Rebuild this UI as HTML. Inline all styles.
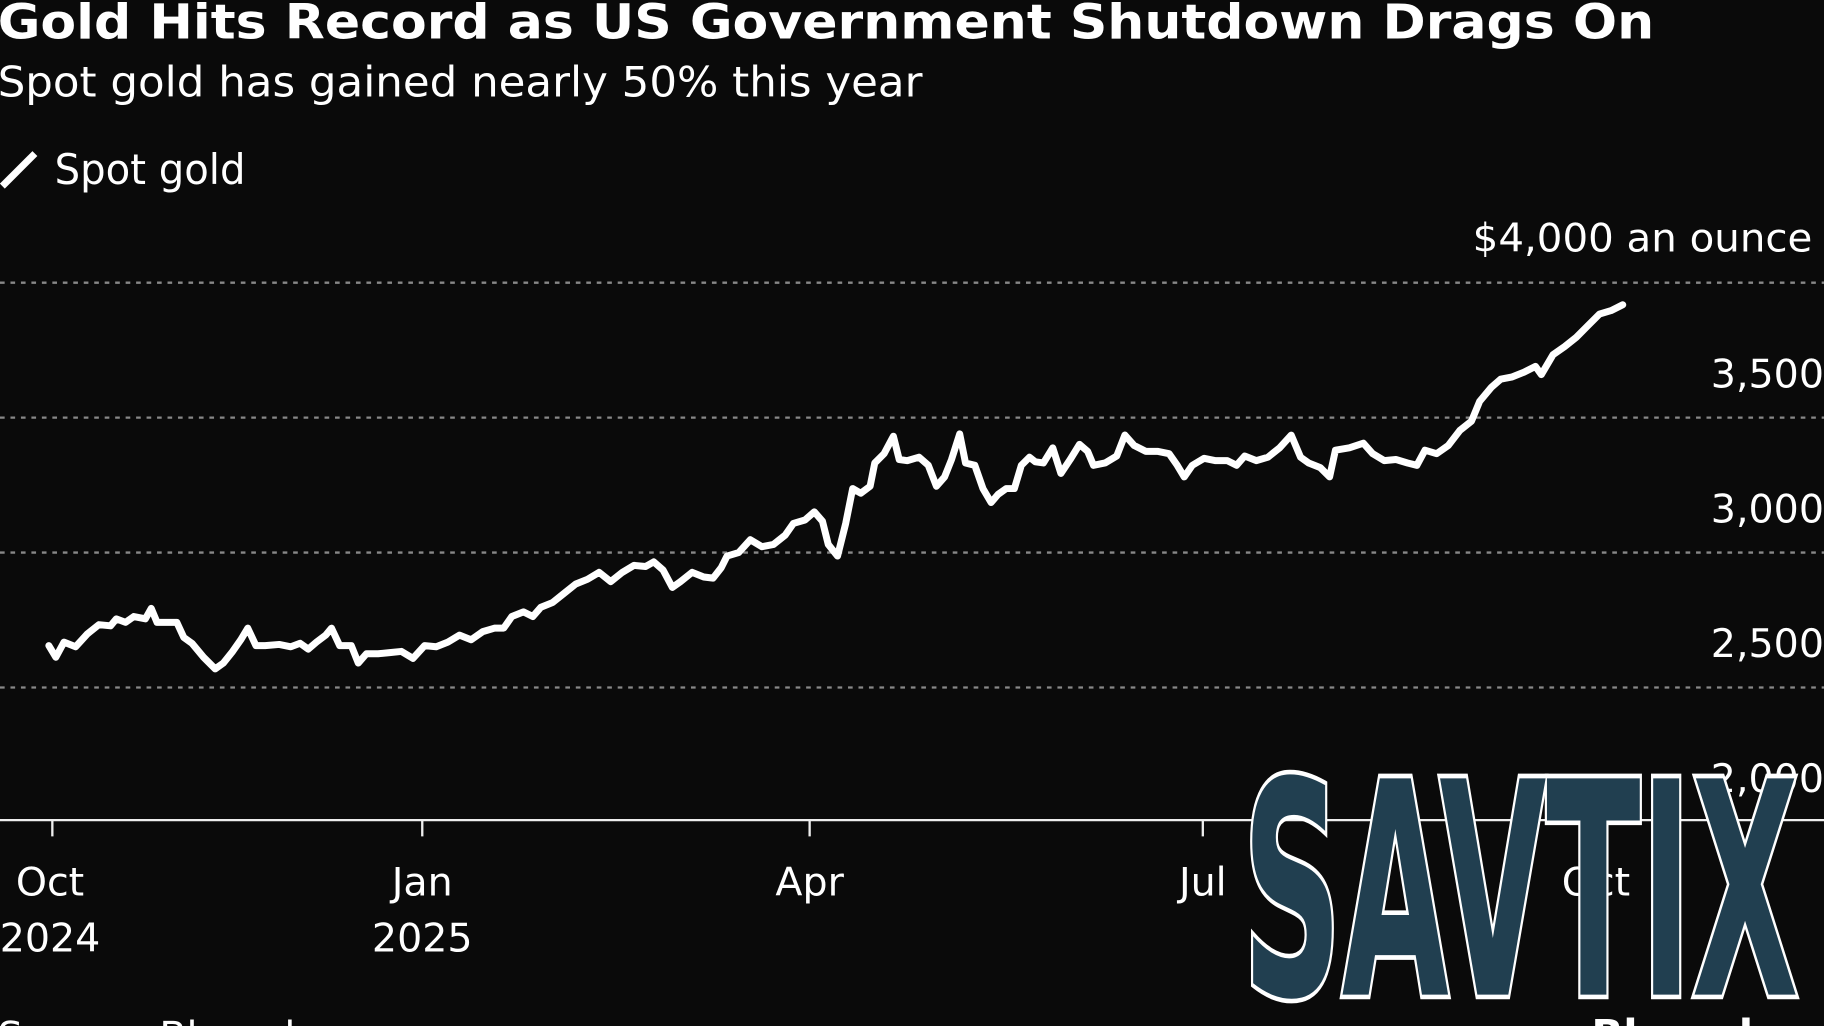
<!DOCTYPE html>
<html><head><meta charset="utf-8"><style>
html,body{margin:0;padding:0;background:#0a0a0a;overflow:hidden}
svg{display:block}
text{font-family:"DejaVu Sans","Liberation Sans",sans-serif;fill:#fff}
</style></head><body>
<svg width="1824" height="1026" viewBox="0 0 1568 882" preserveAspectRatio="none">
<rect width="1568" height="882" fill="#0a0a0a"/>
<text x="-2" y="33" font-size="41" font-weight="bold" textLength="1424" lengthAdjust="spacingAndGlyphs">Gold Hits Record as US Government Shutdown Drags On</text>
<text x="-2" y="83" font-size="36" textLength="795" lengthAdjust="spacingAndGlyphs">Spot gold has gained nearly 50% this year</text>
<line x1="2" y1="160" x2="30" y2="132" stroke="#fff" stroke-width="6"/>
<text x="47" y="158" font-size="36" textLength="164" lengthAdjust="spacingAndGlyphs">Spot gold</text>
<g stroke="#888" stroke-width="2" stroke-dasharray="4,5">
<line x1="0" y1="243" x2="1568" y2="243"/><line x1="0" y1="359" x2="1568" y2="359"/>
<line x1="0" y1="475" x2="1568" y2="475"/><line x1="0" y1="591" x2="1568" y2="591"/>
</g>
<g font-size="34" text-anchor="end">
<text x="1558" y="216" textLength="292" lengthAdjust="spacingAndGlyphs">$4,000 an ounce</text>
<text x="1568" y="333">3,500</text><text x="1568" y="449">3,000</text>
<text x="1568" y="565">2,500</text><text x="1568" y="681">2,000</text>
</g>
<line x1="0" y1="705" x2="1568" y2="705" stroke="#eee" stroke-width="2"/>
<g stroke="#eee" stroke-width="2">
<line x1="45" y1="705" x2="45" y2="719"/><line x1="363" y1="705" x2="363" y2="719"/>
<line x1="696" y1="705" x2="696" y2="719"/><line x1="1034" y1="705" x2="1034" y2="719"/>
<line x1="1370" y1="705" x2="1370" y2="719"/>
</g>
<g font-size="34" text-anchor="middle">
<text x="43" y="770">Oct</text><text x="43" y="818">2024</text>
<text x="363" y="770">Jan</text><text x="363" y="818">2025</text>
<text x="696" y="770">Apr</text><text x="1034" y="770">Jul</text><text x="1372" y="770">Oct</text>
</g>
<text x="-2" y="902" font-size="34">Source: Bloomberg</text>
<text x="1368" y="902" font-size="36" font-weight="bold">Bloomberg</text>
<polyline fill="none" stroke="#fff" stroke-width="6" stroke-linejoin="round" stroke-linecap="round" points="42,555 48,565 55,552 65,556 75,545 85,537 95,538 100,532 108,535 115,530 125,532 130,523 135,535 145,535 152,535 158,548 165,553 175,565 185,575 192,570 200,560 207,550 213,540 220,555 228,555 240,554 250,556 258,553 265,558 272,552 280,546 285,540 292,555 302,555 308,570 315,562 325,562 335,561 345,560 355,566 365,555 375,556 385,552 395,546 405,550 415,543 425,540 433,540 440,530 450,526 458,530 465,522 475,518 485,510 495,502 505,498 515,492 525,500 535,492 545,486 555,487 562,483 570,490 578,505 585,500 595,492 605,496 613,497 620,488 625,478 635,475 645,464 655,470 665,468 675,460 682,450 692,447 700,440 707,448 712,468 720,478 727,450 733,420 740,424 748,418 752,398 760,390 768,375 773,395 780,396 790,393 798,400 805,418 812,410 818,395 825,373 830,398 838,400 845,420 852,432 858,425 865,420 872,420 878,400 885,393 890,397 897,398 905,385 912,407 920,395 928,382 935,388 940,400 950,398 960,392 967,374 975,383 985,388 995,388 1005,390 1012,400 1018,410 1025,400 1035,394 1045,396 1055,396 1063,400 1070,392 1080,396 1090,393 1100,385 1110,374 1118,393 1125,398 1135,402 1143,410 1148,387 1160,385 1172,381 1180,390 1190,396 1200,395 1210,398 1218,400 1225,387 1235,390 1245,383 1255,370 1265,362 1272,345 1282,333 1290,326 1300,324 1310,320 1320,315 1325,322 1335,305 1345,298 1355,290 1365,280 1375,270 1385,267 1395,262"/>
<text x="1068" y="855" font-size="255" font-family="Liberation Sans Narrow, Liberation Sans, sans-serif" font-weight="bold" textLength="478" lengthAdjust="spacingAndGlyphs" style="fill:#fff;stroke:#fff;stroke-width:8">SAVTIX</text>
<text x="1068" y="855" font-size="255" font-family="Liberation Sans Narrow, Liberation Sans, sans-serif" font-weight="bold" textLength="478" lengthAdjust="spacingAndGlyphs" style="fill:#213f50">SAVTIX</text>
</svg>
</body></html>
